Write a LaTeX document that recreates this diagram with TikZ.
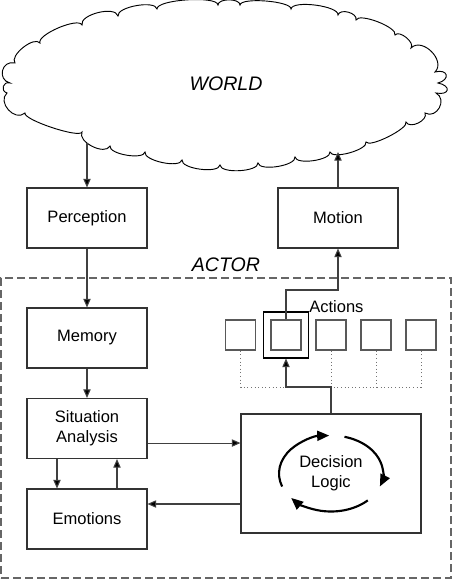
\documentclass[tikz,border=0pt]{standalone}
\usepackage{fontspec}
\setmainfont{Liberation Sans}
\usetikzlibrary{arrows.meta,calc}
\tikzset{
  box/.style={draw=black!80, line width=0.8pt, fill=white, minimum width=90pt, minimum height=45pt, inner sep=0pt, align=center, font=\fontsize{12.4}{15}\selectfont},
  abox/.style={draw=black!65, line width=1.1pt, minimum size=22.5pt, inner sep=0pt},
  hlbox/.style={draw=black, line width=0.8pt, minimum width=33.75pt, minimum height=34.5pt, inner sep=0pt},
  arr/.style={draw=black!75, line width=0.8pt, -{Triangle[length=6.5pt,width=5.5pt,fill=black]}},
  dotline/.style={draw=black!55, line width=0.7pt, dotted},
  cyc/.style={line width=1.6pt, -{Triangle[length=9pt,width=7.5pt]}},
  bigtext/.style={font=\itshape\fontsize{14.7}{17}\selectfont},
  lbl/.style={font=\fontsize{12.4}{15}\selectfont, inner sep=0pt},
  actorframe/.style={draw=black!60, line width=1.2pt, dash pattern=on 6pt off 3pt, minimum width=337.5pt, minimum height=225pt, inner sep=0pt},
  puff/.style={bend left=90, looseness=#1}
}
\begin{document}
\begin{tikzpicture}[x=0.75pt,y=-0.75pt]
\useasboundingbox (0,0) rectangle (453,581);
% cloud
\draw[line width=0.7pt, fill=white]
 (82,25) to[puff=0.75] (118,16) to[puff=0.6] (157,9) to[puff=0.4] (218,5)
 to[puff=0.8] (240,5) to[puff=0.4] (291,9) to[puff=0.5] (338,15)
 to[puff=1.0] (356,20) to[puff=0.5] (395,35) to[puff=0.85] (411,48)
 to[puff=1.2] (435,72) to[puff=3] (438,83) to[puff=3.5] (436,93)
 to[puff=1.5] (425,113) to[puff=1] (406,122) to[puff=0.4] (366,142)
 to[puff=0.55] (330,152) to[puff=0.6] (295,157) to[puff=0.6] (258,163)
 to[puff=0.6] (220,165) to[puff=0.6] (182,160) to[puff=0.6] (145,152)
 to[puff=0.6] (110,146) to[puff=0.9] (82,132) to[puff=0.3] (25,113)
 to[puff=1.3] (7,93) to[puff=1.8] (10,83) to[puff=1.7] (15,63)
 to[puff=0.75] (40,43) to[puff=0.5] (82,25) -- cycle;
\node[bigtext] (world) at (226,84) {WORLD};
\coordinate (wp) at (87,143);
\coordinate (wm) at (338,152);

% actor frame
\node[actorframe] (actor) at (226,428) {};
\node[bigtext] (actorlbl) at (226,265) {ACTOR};

% boxes
\node[box] (per) at (87,218) {Perception};
\node[box] (mot) at (338,218) {Motion};
\node[box] (mem) at (87,338) {Memory};
\node[box] (sa) at (87,428.5) {Situation\\Analysis};
\node[box] (emo) at (87,519) {Emotions};
\node[box, minimum width=135pt, minimum height=89.25pt] (dec) at (331,473.5) {Decision\\Logic};

% actions
\node[abox] (a1) at (240.5,335) {};
\node[hlbox] (hl) at (286,335) {};
\node[abox] (a2) at (286,335) {};
\node[abox] (a3) at (331,335) {};
\node[abox] (a4) at (376,335) {};
\node[abox] (a5) at (421,335) {};
\node[lbl, anchor=west] (actlbl) at (309,307) {Actions};

\coordinate (j) at (286,387);
\coordinate (k) at (338,290);

% dotted links
\draw[dotline] (a1.south) |- (a5.south |- j) -- (a5.south);
\draw[dotline] (a3.south) -- (a3.south |- j);
\draw[dotline] (a4.south) -- (a4.south |- j);

% connectors
\draw[arr] (wp) -- (per.north -| wp);
\draw[arr] (per.south) -- (mem.north);
\draw[arr] (mem.south) -- (sa.north);
\draw[arr] ([xshift=-22.5pt]sa.south) -- ([xshift=-22.5pt]emo.north);
\draw[arr] ([xshift=22.5pt]emo.north) -- ([xshift=22.5pt]sa.south);
\coordinate (s1) at ([yshift=-10.9pt]sa.east);
\draw[arr] (s1) -- (s1 -| dec.west);
\coordinate (e1) at ([yshift=11.25pt]emo.east);
\draw[arr] (e1 -| dec.west) -- (e1);
\draw[arr] (dec.north) |- (j) -- (hl.south);
\draw[arr] (a2.north) |- (k) -- (mot.south);
\draw[arr] (mot.north) -- (wm);

% decision cycle
\draw[cyc] ($(dec.center)+(160:52 and 38)$) arc[start angle=160, end angle=268, x radius=52, y radius=38];
\draw[cyc] ($(dec.center)+(285:52 and 38)$) arc[start angle=285, end angle=380, x radius=52, y radius=38];
\draw[cyc] ($(dec.center)+(45:52 and 38)$) arc[start angle=45, end angle=140, x radius=52, y radius=38];
\end{tikzpicture}
\end{document}
